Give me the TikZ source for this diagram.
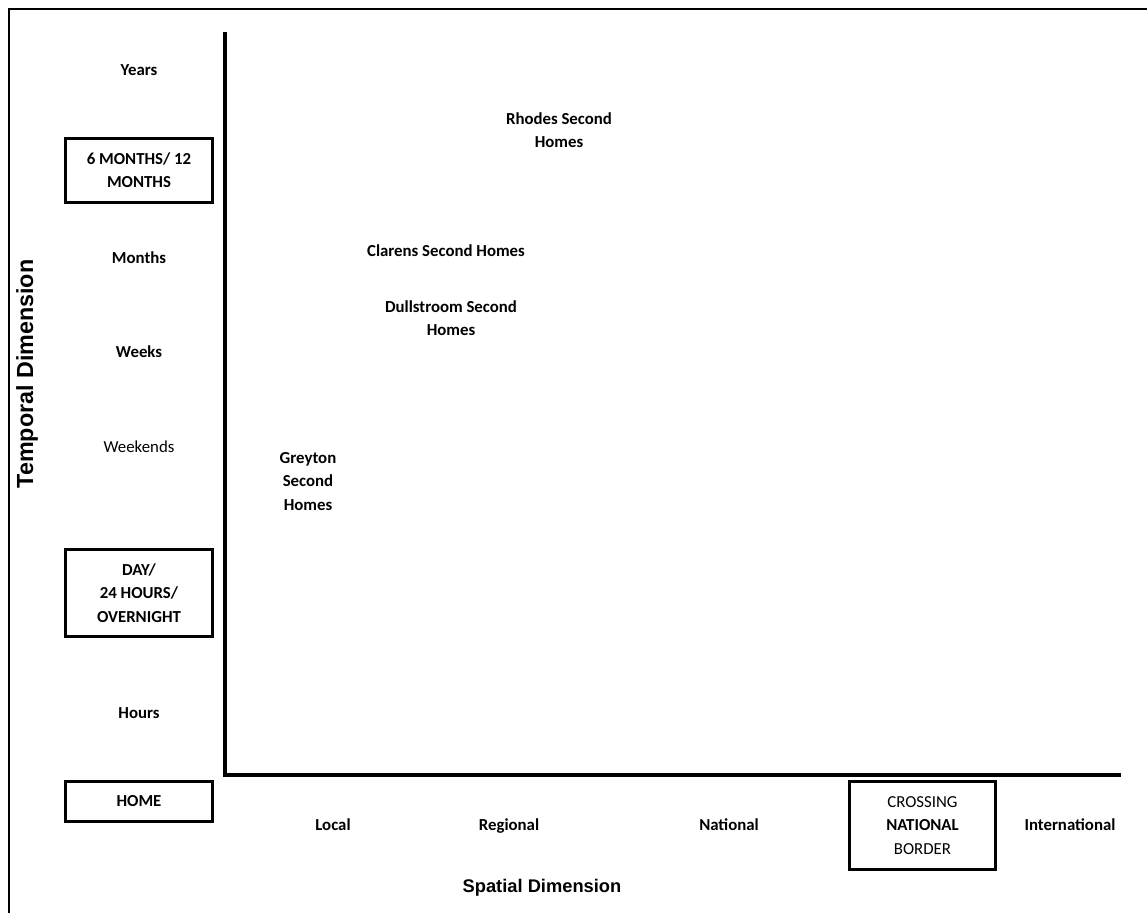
\documentclass[tikz,border=0pt]{standalone}
\usepackage{fontspec}
\setmainfont{Carlito}
\newfontfamily\arialfont{Liberation Sans}
\begin{document}
\begin{tikzpicture}[x=1bp,y=-1bp,
  every node/.style={inner sep=0pt, align=center,
    font=\fontsize{16.8bp}{23.3bp}\selectfont},
  lbl/.style={font=\fontsize{16.8bp}{23.3bp}\selectfont\bfseries},
  plain/.style={font=\fontsize{16.8bp}{23.3bp}\selectfont},
  oneline/.style={text height=11bp, text depth=0.5bp},
  framebox/.style={draw, line width=3bp, minimum width=146bp},
  axistitle/.style={font=\arialfont\bfseries\fontsize{18.3bp}{22bp}\selectfont},
  axisline/.style={line width=3.5bp},
  frameline/.style={line width=2bp}]
\useasboundingbox (0,0) rectangle (1147,913);

% outer frame (top and left edges)
\coordinate (fTL) at (9,9);
\coordinate (fTR) at (1147,9);
\coordinate (fBL) at (9,913);
\draw[frameline] (fTR) -- (fTL) -- (fBL);

% axes
\coordinate (yTop) at (225,32);
\coordinate (origin) at (225,775);
\coordinate (xEnd) at (1121,775);
\draw[axisline] (yTop) -- (origin) -- (xEnd);

% temporal scale
\node[lbl, oneline] (years) at (139,70) {Years};
\node[lbl, framebox, minimum height=64bp] (halfyear) at (139,170.5) {6 MONTHS/ 12\\MONTHS};
\node[lbl, oneline] (months) at (139,258) {Months};
\node[lbl, oneline] (weeks) at (139,352) {Weeks};
\node[plain, oneline] (weekends) at (139,447) {Weekends};
\node[lbl, framebox, minimum height=87bp] (day) at (139,593) {DAY/\\24 HOURS/\\OVERNIGHT};
\node[lbl, oneline] (hours) at (139,713) {Hours};
\node[lbl, oneline, framebox, minimum height=40bp] (home) at (139,801.5) {HOME};

% spatial scale
\node[lbl, oneline] (local) at (333,825) {Local};
\node[lbl, oneline] (regional) at (509,825) {Regional};
\node[lbl, oneline] (national) at (729,825) {National};
\node[plain, framebox, minimum height=88bp] (border) at (922.5,825.5) {CROSSING\\\textbf{NATIONAL}\\BORDER};
\node[lbl, oneline] (international) at (1070,825) {International};

% case studies
\node[lbl] (rhodes) at (559,130) {Rhodes Second\\Homes};
\node[lbl, oneline] (clarens) at (446,251) {Clarens Second Homes};
\node[lbl] (dullstroom) at (451,318.5) {Dullstroom Second\\Homes};
\node[lbl] (greyton) at (308,481.5) {Greyton\\Second\\Homes};

% axis titles
\node[axistitle] (spatial) at (542,888) {Spatial Dimension};
\node[axistitle, font=\arialfont\bfseries\fontsize{23.3bp}{26bp}\selectfont, rotate=90] (temporal) at (27,374) {Temporal Dimension};
\end{tikzpicture}
\end{document}
